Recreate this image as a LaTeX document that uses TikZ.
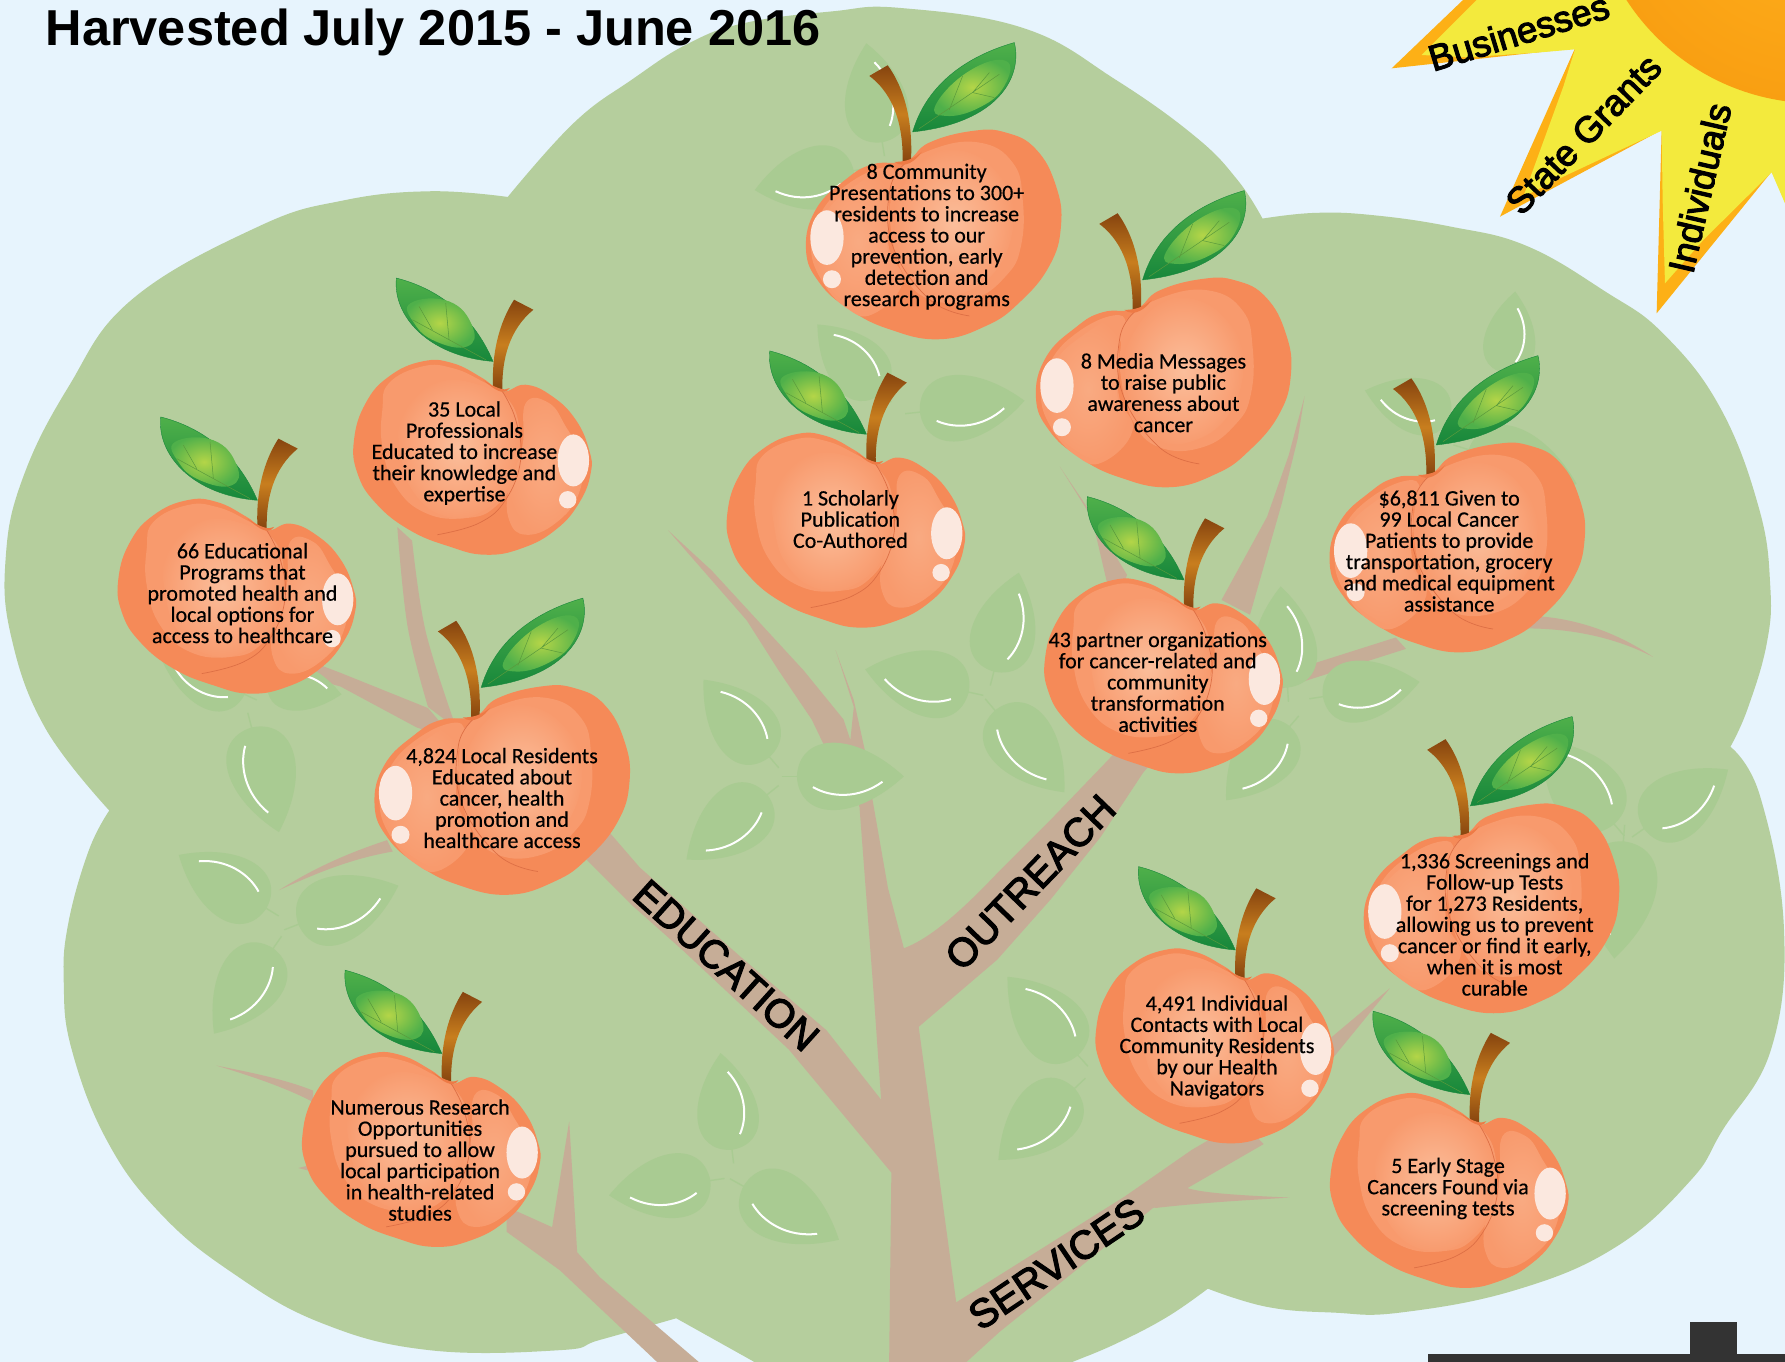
\documentclass[tikz,border=0pt]{standalone}
\usepackage{fontspec}
\setmainfont{Liberation Sans}
\newfontfamily\peachfont[FakeBold=0.45]{Carlito}
\newfontfamily\headfont{Liberation Sans}[BoldFont={Liberation Sans Bold}]
\newfontfamily\rayfont[FakeBold=3]{Liberation Sans}
\usetikzlibrary{calc}
\definecolor{skybg}{HTML}{E7F4FD}
\definecolor{crown}{HTML}{B5CE9D}
\definecolor{bark}{HTML}{C6AD97}
\definecolor{faintleaf}{HTML}{A9CB92}
\definecolor{pbase}{HTML}{F58A58}
\definecolor{pmid}{HTML}{F89A6D}
\definecolor{plight}{HTML}{FBBE9B}
\definecolor{pcrease}{HTML}{DD6F45}
\definecolor{pdimple}{HTML}{EE7A45}
\definecolor{shine}{HTML}{FBE8DF}
\definecolor{leafdark}{HTML}{17873B}
\definecolor{leafmid}{HTML}{4FB04A}
\definecolor{leaflight}{HTML}{B4D548}
\definecolor{vein}{HTML}{5A9A3C}
\definecolor{stemdark}{HTML}{86440F}
\definecolor{stemmid}{HTML}{C87E1E}
\definecolor{rayorange}{HTML}{FDB016}
\definecolor{rayyellow}{HTML}{F3EA3D}
\definecolor{sunin}{HTML}{FFB21E}
\definecolor{sunout}{HTML}{F99F12}
\definecolor{roof}{HTML}{333333}
\tikzset{
  branch/.style={fill=bark},
  peachtext/.style={font=\peachfont\fontsize{22}{21.2}\selectfont,align=center,text=black,inner sep=0pt},
  limblabel/.style={font=\rayfont\fontsize{40}{42}\selectfont,text=black,inner sep=0pt},
  raylabel/.style={font=\rayfont\fontsize{36.5}{40}\selectfont,text=black,inner sep=0pt},
}
\newcommand{\fadeleaf}[5]{%
  \pgfmathsetmacro{\lax}{(#3-#1)*0.0113839}%
  \pgfmathsetmacro{\lay}{-(#4-#2)*0.0113839}%
  \pgfmathsetmacro{\lbx}{-(#5)*\lay}%
  \pgfmathsetmacro{\lby}{(#5)*\lax}%
  \begin{scope}[shift={(#1,#2)},x={(\lax pt,\lay pt)},y={(\lbx pt,\lby pt)}]
    \fill[faintleaf] (0,0) .. controls (2,40) and (52,44) .. (100,0) .. controls (52,-44) and (2,-40) .. (0,0) -- cycle;
    \draw[faintleaf,line width=1.4pt] (-14,0) -- (2,0);
    \draw[white,line width=2pt] (15,10) .. controls (32,20) and (58,21) .. (80,5);
  \end{scope}}
\newcommand{\peachA}[2]{%
  \begin{scope}[shift={(#1,#2)},x=0.33333pt,y=-0.33333pt,shift={(-100,-295)}]
    \fill[pbase] plot[smooth cycle,tension=0.75] coordinates {(400,385)(470,330)(600,295)(700,300)(790,350)(850,460)(865,580)(830,700)(740,810)(640,880)(500,920)(350,890)(230,830)(140,750)(100,650)(130,530)(220,440)(300,395)};
    \fill[pmid] plot[smooth cycle,tension=0.75] coordinates {(115,640)(145,540)(225,455)(330,405)(370,430)(345,520)(350,650)(390,750)(300,845)(220,825)(145,740)};
    \fill[pmid] plot[smooth cycle,tension=0.75] coordinates {(370,420)(480,350)(620,330)(720,390)(750,500)(745,640)(700,730)(600,800)(470,800)(390,720)(355,590)(355,490)};
    \shade[inner color=plight,outer color=pmid] plot[smooth cycle,tension=0.75] coordinates {(380,480)(470,370)(590,360)(690,440)(725,540)(680,700)(560,785)(450,770)(390,680)(365,570)};
    \shade[inner color=pmid!55!plight,outer color=pmid] plot[smooth cycle,tension=0.75] coordinates {(125,640)(155,545)(240,465)(335,420)(350,520)(345,650)(380,745)(300,830)(220,810)(150,735)};
    \draw[pcrease,line width=0.7pt] plot[smooth,tension=0.7] coordinates {(400,390)(352,470)(360,640)(470,800)(590,850)};
    \shade[top color=leafmid,bottom color=leafdark,draw=leafdark,line width=0.4pt] (420,298) .. controls (470,130) and (620,60) .. (725,30) .. controls (750,130) and (680,270) .. (420,298) -- cycle;
    \shade[inner color=leaflight,outer color=leafmid] plot[smooth cycle,tension=0.8] coordinates {(490,215)(590,115)(700,85)(695,160)(620,225)(520,250)};
    \draw[vein,line width=0.5pt] (440,288) -- (680,125) (530,232) -- (570,130) (600,180) -- (665,195) (600,180) -- (650,120);
    \shade[top color=stemdark,bottom color=stemdark,middle color=stemmid] (290,130) -- (345,98) .. controls (405,180) and (420,290) .. (415,385) -- (390,390) .. controls (392,290) and (370,190) .. (290,130) -- cycle;
    \fill[pdimple] (365,388) .. controls (395,410) and (430,385) .. (447,358) .. controls (430,372) and (410,388) .. (365,388) -- cycle;
    \fill[shine] (163,615) ellipse (50 and 82);
    \fill[shine] (178,740) circle (27);
  \end{scope}}
\newcommand{\peachB}[2]{%
  \begin{scope}[shift={(#1,#2)},x=0.33333pt,y=-0.33333pt,shift={(-45,-300)}]
    \fill[pbase] plot[smooth cycle,tension=0.75] coordinates {(490,395)(560,375)(640,410)(710,480)(750,570)(755,640)(720,730)(650,810)(550,865)(440,885)(330,860)(210,810)(110,730)(55,640)(45,540)(80,430)(150,350)(250,305)(340,310)(430,355)};
    \fill[pmid] plot[smooth cycle,tension=0.75] coordinates {(150,370)(250,320)(340,325)(430,365)(500,410)(540,500)(530,640)(470,740)(380,775)(260,760)(170,680)(130,560)(130,450)};
    \shade[inner color=plight,outer color=pmid] plot[smooth cycle,tension=0.75] coordinates {(190,470)(290,370)(420,375)(500,430)(540,530)(520,660)(430,755)(320,770)(225,700)(185,580)};
    \shade[inner color=pmid!55!plight,outer color=pmid] plot[smooth cycle,tension=0.75] coordinates {(560,430)(630,430)(680,500)(725,590)(720,700)(650,790)(560,825)(510,780)(510,680)(550,560)};
    \draw[pcrease,line width=0.7pt] plot[smooth,tension=0.7] coordinates {(490,395)(530,480)(545,600)(500,720)(420,790)(295,825)};
    \shade[top color=leafmid,bottom color=leafdark,draw=leafdark,line width=0.4pt] (462,305) .. controls (400,160) and (290,85) .. (172,55) .. controls (160,170) and (270,290) .. (462,305) -- cycle;
    \shade[inner color=leaflight,outer color=leafmid] plot[smooth cycle,tension=0.8] coordinates {(215,130)(330,125)(400,200)(385,260)(290,245)(225,190)};
    \draw[vein,line width=0.5pt] (440,300) -- (220,180) (330,240) -- (320,130) (280,210) -- (240,140);
    \shade[top color=stemdark,bottom color=stemdark,middle color=stemmid] (525,120) -- (583,150) .. controls (510,210) and (488,300) .. (490,390) -- (462,380) .. controls (458,280) and (480,190) .. (525,120) -- cycle;
    \fill[pdimple] (432,360) .. controls (465,390) and (495,410) .. (512,385) .. controls (495,395) and (470,385) .. (432,360) -- cycle;
    \fill[shine] (703,602) ellipse (47 and 78);
    \fill[shine] (686,720) circle (26);
  \end{scope}}
\begin{document}
\begin{tikzpicture}[x=1.13839pt,y=-1.13839pt]
\clip (0,0) rectangle (1568,1196.4);
\fill[skybg] (0,0) rectangle (1568,1196.4);

% crown
\fill[crown]
  plot[smooth,tension=0.7] coordinates {(446,173)(504,108)(555,70)(605,38)(655,20)(731,10)(791,7)(900,25)(980,70)(1050,120)(1087,158)(1109,192)}
  -- plot[smooth,tension=0.7] coordinates {(1109,192)(1155,187)(1206,189)(1274,199)(1341,216)(1410,256)(1461,293)(1511,358)(1545,446)(1555,514)(1552,565)(1535,623)(1520,656)}
  -- plot[smooth,tension=0.7] coordinates {(1520,656)(1546,699)(1567,814)(1556,921)(1513,993)(1485,1037)(1420,1095)(1332,1133)(1230,1153)(1171,1153)(1113,1148)(1061,1132)}
  -- plot[smooth,tension=0.7] coordinates {(1061,1132)(1025,1157)(981,1180)(943,1196)(920,1205)}
  -- (662,1210)
  -- plot[smooth,tension=0.7] coordinates {(662,1196)(628,1177)(594,1158)}
  -- plot[smooth,tension=0.7] coordinates {(594,1158)(527,1177)(492,1186)(377,1186)(282,1162)(204,1118)(141,1066)(94,1002)(63,922)(56,863)(60,811)(78,747)(96,712)}
  -- plot[smooth,tension=0.7] coordinates {(96,712)(40,640)(10,560)(5,490)(20,420)(60,340)(116,263)(227,199)(302,176)(378,168)(446,173)}
  -- cycle;

% branches
\fill[branch] (781,1200) -- (783,1030) -- (693,922) -- (600,835) -- (555,795) -- (505,745) -- (530,725) -- (562,762) -- (650,840) -- (726,905) -- (774,966) -- (768,880) -- (755,709) -- (745,680) -- (726,659) -- (713,632) -- (684,589) -- (656,545) -- (587,466) -- (625,501) -- (706,589) -- (741,632) -- (747,650) -- (750,621) -- (734,571) -- (750,615) -- (761,665) -- (766,700) -- (780,780) -- (794,833)
  .. controls (815,825) and (840,805) .. (876,767) -- (923,720) -- (973,668) -- (990,650) -- (1020,660) -- (1004,679) -- (967,735) -- (923,790) -- (876,843) -- (807,902) -- (840,1144) -- (988,1051) -- (1047,1010) -- (1090,985) -- (1110,1005) -- (1013,1061) -- (878,1170) -- (845,1200) -- cycle;
\fill[branch] (1000,1060) -- (1039,1042) .. controls (1050,1048) and (1090,1050) .. (1133,1052) .. controls (1100,1054) and (1060,1056) .. (1016,1061) -- cycle;
\fill[branch] plot[smooth,tension=0.6] coordinates {(349,463)(358,550)(376,621)} -- plot[smooth,tension=0.6] coordinates {(401,640)(374,555)(362,475)} -- cycle;
\fill[branch] (270,580) -- (299,591) -- (376,622) -- (400,650) -- (366,639) -- (299,603) -- (270,595) -- cycle;
\fill[branch] (245,782) .. controls (280,760) and (310,748) .. (340,738) -- (345,748) .. controls (310,754) and (280,766) .. (245,782) -- cycle;
\fill[branch] (190,936) .. controls (220,942) and (250,948) .. (275,958) -- (275,968) .. controls (250,955) and (220,945) .. (190,936) -- cycle;
\fill[branch] (262,1026) -- (278,1022) -- (278,1030) -- cycle;
\fill[branch] (445,1060) -- (485,1078) -- (500,985) -- (507,1100) -- (527,1122) -- (618,1200) -- (581,1200) -- (492,1116) -- (445,1082) -- cycle;
\fill[branch] (931,410) -- (975,480) -- (990,505) -- (985,520) -- (972,510) -- (958,450) -- cycle;
\fill[branch] (1146,348) -- (1132,400) -- (1113,454) -- (1073,527) -- (1098,540) -- (1126,442) -- (1140,385) -- cycle;
\fill[branch] (1125,592) -- (1226,560) -- (1235,570) -- (1125,605) -- cycle;
\fill[branch] (1340,541) .. controls (1375,541) and (1415,552) .. (1452,577) .. controls (1415,558) and (1375,552) .. (1340,552) -- cycle;
\fill[branch] (1165,915) -- (1221,868) -- (1172,928) -- cycle;

% faint leaves
\fadeleaf{643}{1010}{633}{925}{-1}
\fadeleaf{624}{1037}{535}{1050}{1}
\fadeleaf{653}{1042}{737}{1089}{-1}
\fadeleaf{676}{665}{618}{597}{-1}
\fadeleaf{700}{682}{794}{682}{-1}
\fadeleaf{674}{698}{603}{755}{1}
\fadeleaf{873}{590}{895}{503}{-1}
\fadeleaf{851}{608}{760}{588}{1}
\fadeleaf{874}{624}{935}{696}{-1}
\fadeleaf{1162}{612}{1247}{599}{-1}
\fadeleaf{1133}{638}{1077}{703}{1}
\fadeleaf{1131}{604}{1125}{515}{-1}
\fadeleaf{1418}{724}{1355}{650}{-1}
\fadeleaf{1444}{728}{1518}{676}{-1}
\fadeleaf{1426}{739}{1418}{842}{-1}
\fadeleaf{1323}{328}{1331}{256}{-1}
\fadeleaf{1274}{365}{1199}{343}{1}
\fadeleaf{1290}{395}{1385}{425}{-1}
\fadeleaf{775}{125}{761}{38}{-1}
\fadeleaf{750}{150}{663}{167}{1}
\fadeleaf{808}{362}{900}{352}{-1}
\fadeleaf{775}{345}{718}{285}{-1}
\fadeleaf{234}{798}{157}{751}{-1}
\fadeleaf{262}{812}{350}{778}{-1}
\fadeleaf{240}{833}{188}{908}{1}
\fadeleaf{221}{639}{245}{731}{-1}
\fadeleaf{215}{610}{140}{575}{1}
\fadeleaf{235}{600}{300}{610}{1}
\fadeleaf{947}{927}{885}{858}{-1}
\fadeleaf{944}{956}{877}{1019}{1}

% sun
\begin{scope}[x=0.33333pt,y=-0.33333pt,shift={(4050,0)}]
  \fill[rayorange] (360,-20) -- (125,205) -- (675,145) -- (450,650) -- (935,390) -- (920,940) -- (1265,515) -- (1305,600) -- (1320,600) -- (1320,-20) -- cycle;
  \fill[rayyellow] (400,-20) -- (215,165) -- (350,172) -- (560,158) -- (675,148) -- (640,260) -- (520,590) -- (640,530) -- (935,392) -- (938,600) -- (945,850) -- (1060,720) -- (1265,517) -- (1305,610) -- (1320,610) -- (1320,-20) -- cycle;
  \shade[inner color=sunin,outer color=sunout] (1400,-370) circle (680);
\end{scope}

% peaches
\peachA{708}{115}
\peachA{910}{245}
\peachA{1168}{390}
\peachA{1198}{707}
\peachA{329}{603}
\peachB{311}{316}
\peachB{104}{438}
\peachB{639}{380}
\peachB{918}{508}
\peachB{266}{924}
\peachB{963}{833}
\peachB{1169}{960}

% texts
\node[peachtext] (tCommunity) at (814,208) {8 Community\\Presentations to 300+\\residents to increase\\access to our\\prevention, early\\detection and\\research programs};
\node[peachtext] (tMedia) at (1022,345) {8 Media Messages\\to raise public\\awareness about\\cancer};
\node[peachtext] (tGiven) at (1273,484) {\$6,811 Given to\\99 Local Cancer\\Patients to provide\\transportation, grocery\\and medical equipment\\assistance};
\node[peachtext] (tScreen) at (1313,812) {1,336 Screenings and\\Follow-up Tests\\for 1,273 Residents,\\allowing us to prevent\\cancer or find it early,\\when it is most\\curable};
\node[peachtext] (tResidents) at (441,701) {4,824 Local Residents\\Educated about\\cancer, health\\promotion and\\healthcare access};
\node[peachtext] (tProf) at (408,398) {35 Local\\Professionals\\Educated to increase\\their knowledge and\\expertise};
\node[peachtext] (tPrograms) at (213,521) {66 Educational\\Programs that\\promoted health and\\local options for\\access to healthcare};
\node[peachtext] (tScholar) at (747,456) {1 Scholarly\\Publication\\Co-Authored};
\node[peachtext] (tPartner) at (1017,599) {43 partner organizations\\for cancer-related and\\community\\transformation\\activities};
\node[peachtext] (tResearch) at (369,1019) {Numerous Research\\Opportunities\\pursued to allow\\local participation\\in health-related\\studies};
\node[peachtext] (tContacts) at (1069,920) {4,491 Individual\\Contacts with Local\\Community Residents\\by our Health\\Navigators};
\node[peachtext] (tEarly) at (1272,1044) {5 Early Stage\\Cancers Found via\\screening tests};

% labels
\node[limblabel,rotate=-42] (lEdu) at (638,848) {EDUCATION};
\node[limblabel,rotate=46] (lOut) at (905,775) {OUTREACH};
\node[limblabel,rotate=34] (lSer) at (928,1110) {SERVICES};
\node[raylabel,rotate=17] (rBus) at (1334,28) {Businesses};
\node[raylabel,rotate=46] (rState) at (1391,118) {State Grants};
\node[raylabel,rotate=77] (rInd) at (1493,165) {Individuals};
\node[anchor=base west,inner sep=0pt,font=\headfont\bfseries\fontsize{50.5}{52}\selectfont] (title) at (40,40.4) {Harvested July 2015 - June 2016};

% roof
\fill[roof] (1254,1189.4) rectangle (1568,1197);
\fill[roof] (1484.5,1161) rectangle (1526,1197);
\end{tikzpicture}
\end{document}
